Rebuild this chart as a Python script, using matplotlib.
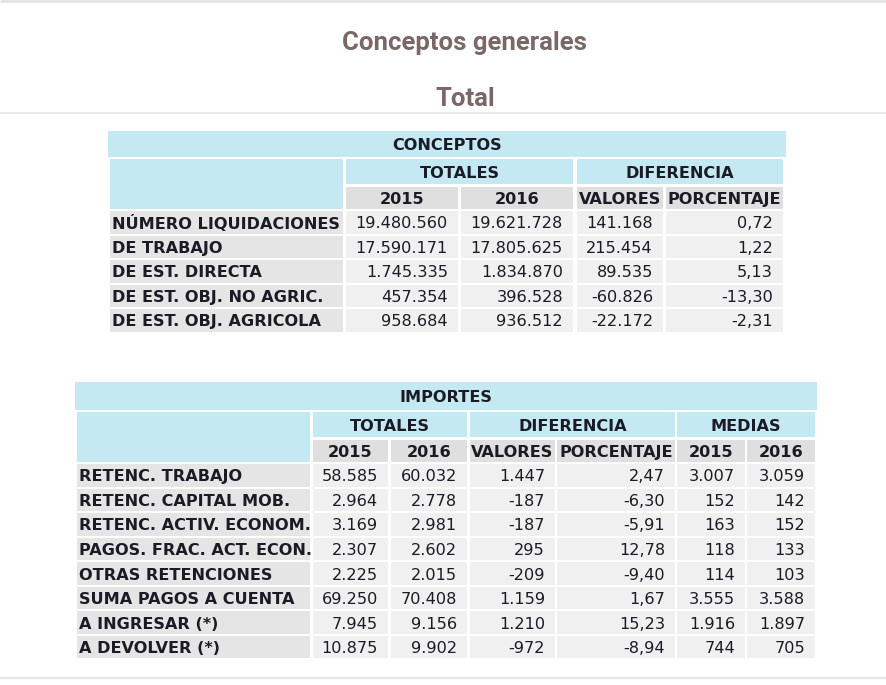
import matplotlib
matplotlib.use('Agg')
import matplotlib.pyplot as plt
from matplotlib.patches import Rectangle

# ---------------- data ----------------
title = "Conceptos generales"
subtitle = "Total"

t1_title = "CONCEPTOS"
t1_groups = ["TOTALES", "DIFERENCIA"]
t1_subheads = ["2015", "2016", "VALORES", "PORCENTAJE"]
t1_labels = ["NÚMERO LIQUIDACIONES", "DE TRABAJO", "DE EST. DIRECTA",
             "DE EST. OBJ. NO AGRIC.", "DE EST. OBJ. AGRICOLA"]
t1_2015 = [19480560, 17590171, 1745335, 457354, 958684]
t1_2016 = [19621728, 17805625, 1834870, 396528, 936512]
t1_valores = [141168, 215454, 89535, -60826, -22172]
t1_pct = [0.72, 1.22, 5.13, -13.30, -2.31]

t2_title = "IMPORTES"
t2_groups = ["TOTALES", "DIFERENCIA", "MEDIAS"]
t2_subheads = ["2015", "2016", "VALORES", "PORCENTAJE", "2015", "2016"]
t2_labels = ["RETENC. TRABAJO", "RETENC. CAPITAL MOB.", "RETENC. ACTIV. ECONOM.",
             "PAGOS. FRAC. ACT. ECON.", "OTRAS RETENCIONES", "SUMA PAGOS A CUENTA",
             "A INGRESAR (*)", "A DEVOLVER (*)"]
t2_2015 = [58585, 2964, 3169, 2307, 2225, 69250, 7945, 10875]
t2_2016 = [60032, 2778, 2981, 2602, 2015, 70408, 9156, 9902]
t2_valores = [1447, -187, -187, 295, -209, 1159, 1210, -972]
t2_pct = [2.47, -6.30, -5.91, 12.78, -9.40, 1.67, 15.23, -8.94]
t2_med2015 = [3007, 152, 163, 118, 114, 3555, 1916, 744]
t2_med2016 = [3059, 142, 152, 133, 103, 3588, 1897, 705]

# ---------------- style ----------------
BLUE = '#c4e9f2'
HDR_GRAY = '#dfdfdf'
LBL_GRAY = '#e5e5e5'
VAL_GRAY = '#f0f0f0'
TXT = '#1b1b26'
TITLE_C = '#7a6868'
FS = 11.6

plt.rcParams['font.family'] = ['DejaVu Sans']


def fmt_int(v):
    s = f"{abs(v):,}".replace(',', '.')
    return ('-' if v < 0 else '') + s


def fmt_pct(v):
    return f"{v:.2f}".replace('.', ',')


fig = plt.figure(figsize=(8.86, 6.85), dpi=100)
ax = fig.add_axes([0, 0, 1, 1])
ax.set_xlim(0, 886)
ax.set_ylim(685, 0)
ax.axis('off')


def cell(x0, x1, y0, y1, color):
    ax.add_patch(Rectangle((x0, y0), x1 - x0, y1 - y0, facecolor=color,
                           edgecolor='none'))


def txt(x, y, s, ha='center', bold=False):
    ax.text(x, y, s, ha=ha, va='center_baseline', fontsize=FS,
            fontweight='bold' if bold else 'normal', color=TXT,
            family='DejaVu Sans')


def draw_table(band, title_s, cols, hdr2, hdr3, groups, group_spans,
               subheads, labels, columns, formats, row0, pitch, rh):
    cell(band[0], band[1], band[2], band[3], BLUE)
    txt((band[0] + band[1]) / 2, (band[2] + band[3]) / 2, title_s, bold=True)
    # blank label header
    cell(cols[0][0], cols[0][1], hdr2[0], hdr3[1], BLUE)
    for g, (a, b) in zip(groups, group_spans):
        x0, x1 = cols[a][0], cols[b][1]
        cell(x0, x1, hdr2[0], hdr2[1], BLUE)
        txt((x0 + x1) / 2, (hdr2[0] + hdr2[1]) / 2, g, bold=True)
    for i, s in enumerate(subheads):
        x0, x1 = cols[i + 1]
        cell(x0, x1, hdr3[0], hdr3[1], HDR_GRAY)
        txt((x0 + x1) / 2, (hdr3[0] + hdr3[1]) / 2, s, bold=True)
    for r, lab in enumerate(labels):
        y0 = row0 + r * pitch
        y1 = y0 + rh
        yc = (y0 + y1) / 2
        cell(cols[0][0], cols[0][1], y0, y1, LBL_GRAY)
        txt(cols[0][0] + 2, yc, lab, ha='left', bold=True)
        for c, (vals, f) in enumerate(zip(columns, formats)):
            x0, x1 = cols[c + 1]
            cell(x0, x1, y0, y1, VAL_GRAY)
            txt(x1 - 10, yc, f(vals[r]), ha='right')


# titles and rules
ax.plot([0, 886], [1.2, 1.2], color='#e3e3e3', lw=2.0, solid_capstyle='butt')
ax.text(465, 50, title, ha='center', va='baseline', fontsize=18.5,
        fontweight='bold', color=TITLE_C, family=['Roboto', 'DejaVu Sans'])
ax.text(465, 106, subtitle, ha='center', va='baseline', fontsize=18.5,
        fontweight='bold', color=TITLE_C, family=['Roboto', 'DejaVu Sans'])
ax.plot([0, 886], [112.5, 112.5], color='#e6e6e6', lw=1.2, solid_capstyle='butt')
ax.plot([0, 886], [677.5, 677.5], color='#e6e6e6', lw=1.6, solid_capstyle='butt')

# table 1
draw_table(band=(108, 786, 131, 157), title_s=t1_title,
           cols=[(110, 343), (346, 458), (461, 573), (577, 663), (666, 783)],
           hdr2=(159, 184), hdr3=(187, 208.5),
           groups=t1_groups, group_spans=[(1, 2), (3, 4)],
           subheads=t1_subheads, labels=t1_labels,
           columns=[t1_2015, t1_2016, t1_valores, t1_pct],
           formats=[fmt_int, fmt_int, fmt_int, fmt_pct],
           row0=211, pitch=24.5, rh=22.5)

# table 2
draw_table(band=(75, 817, 382, 410), title_s=t2_title,
           cols=[(77, 310), (313, 388), (391, 467), (470, 555), (557, 675),
                 (677, 745), (747, 815)],
           hdr2=(412, 437), hdr3=(440, 462),
           groups=t2_groups, group_spans=[(1, 2), (3, 4), (5, 6)],
           subheads=t2_subheads, labels=t2_labels,
           columns=[t2_2015, t2_2016, t2_valores, t2_pct, t2_med2015, t2_med2016],
           formats=[fmt_int, fmt_int, fmt_int, fmt_pct, fmt_int, fmt_int],
           row0=464, pitch=24.57, rh=22.5)

fig.savefig('out.png', dpi=100)
